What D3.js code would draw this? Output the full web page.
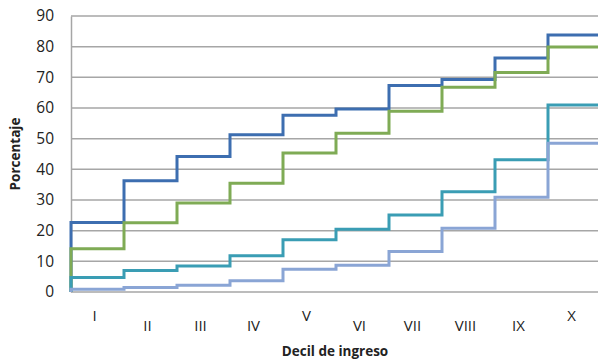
<!DOCTYPE html>
<html>
<head>
<meta charset="utf-8">
<script src="https://cdn.jsdelivr.net/npm/d3@7"></script>
<style>
body { margin: 0; background: #fff; }
text { font-family: "Open Sans", sans-serif; fill: #222; }
</style>
</head>
<body>
<div id="chart"></div>
<script>
var deciles = ["I", "II", "III", "IV", "V", "VI", "VII", "VIII", "IX", "X"];
var serie1 = [22.7, 36.3, 44.2, 51.3, 57.6, 59.7, 67.3, 69.3, 76.3, 83.8];
var serie2 = [14.1, 22.6, 29.0, 35.5, 45.3, 51.8, 58.9, 66.8, 71.6, 79.9];
var serie3 = [4.7, 7.0, 8.5, 11.8, 17.0, 20.5, 25.1, 32.7, 43.1, 61.0];
var serie4 = [0.9, 1.5, 2.2, 3.7, 7.4, 8.7, 13.2, 20.8, 30.9, 48.5];
var yTicks = [0, 10, 20, 30, 40, 50, 60, 70, 80, 90];

var series = [serie1, serie2, serie3, serie4];
var colors = ["#3d6eb0", "#7fab55", "#3a9db4", "#8aa5d5"];

var W = 598, H = 361;
var margin = {top: 16, right: -3, bottom: 69, left: 71},
    width = W - margin.left - margin.right,
    height = H - margin.top - margin.bottom;

var svg = d3.select("#chart")
  .append("svg")
  .attr("width", W)
  .attr("height", H)
  .append("g")
  .attr("transform", "translate(" + margin.left + "," + margin.top + ")");

var x = d3.scaleLinear().domain([0, deciles.length]).range([0, width]);
var xBand = d3.scaleBand().domain(deciles).range([0, width]);
var y = d3.scaleLinear().domain([0, 90]).range([height, 0]);

// gridlines
svg.append("g")
  .selectAll("line")
  .data(yTicks)
  .enter()
  .append("line")
  .attr("x1", 0)
  .attr("x2", width)
  .attr("y1", function(d) { return y(d); })
  .attr("y2", function(d) { return y(d); })
  .attr("stroke", "#a6a6a6")
  .attr("stroke-width", 1.5);

// y axis
var yAxis = svg.append("g")
  .call(d3.axisLeft(y).tickValues(yTicks).tickSize(0).tickPadding(17));
yAxis.select(".domain").attr("stroke", "#a6a6a6").attr("stroke-width", 1.5);
yAxis.selectAll("text")
  .style("font-size", "15.5px")
  .attr("fill", "#222");

// step lines
var line = d3.line()
  .x(function(d) { return x(d[0]); })
  .y(function(d) { return y(d[1]); })
  .curve(d3.curveStepBefore);

series.forEach(function(s, k) {
  var pts = [[0, 0]];
  s.forEach(function(v, i) { pts.push([i + 1, v]); });
  svg.append("path")
    .datum(pts)
    .attr("fill", "none")
    .attr("stroke", colors[k])
    .attr("stroke-width", 3)
    .attr("d", line);
});

// x labels, staggered
var high = ["I", "V", "X"];
svg.append("g")
  .selectAll("text")
  .data(deciles)
  .enter()
  .append("text")
  .attr("x", function(d) { return xBand(d) + xBand.bandwidth() / 2 - 3; })
  .attr("y", function(d) { return height + (high.indexOf(d) >= 0 ? 29 : 39); })
  .attr("text-anchor", "middle")
  .style("font-size", "15px")
  .text(function(d) { return d; });

// axis titles
svg.append("text")
  .attr("transform", "translate(" + (15 - margin.left) + "," + (154 - margin.top) + ") rotate(-90)")
  .attr("text-anchor", "middle")
  .attr("dy", "0.35em")
  .style("font-size", "13.5px")
  .style("font-weight", "bold")
  .text("Porcentaje");

svg.append("text")
  .attr("x", 335 - margin.left)
  .attr("y", 356 - margin.top)
  .attr("text-anchor", "middle")
  .style("font-size", "13.5px")
  .style("font-weight", "bold")
  .text("Decil de ingreso");
</script>
</body>
</html>
